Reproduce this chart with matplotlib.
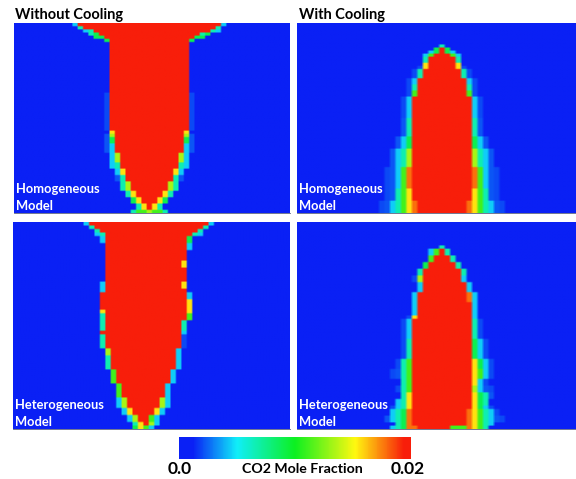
import matplotlib
matplotlib.use("Agg")
import matplotlib.pyplot as plt
import numpy as np
from matplotlib.colors import LinearSegmentedColormap, Normalize
from matplotlib.cm import ScalarMappable

plt.rcParams['font.family'] = ['Lato', 'DejaVu Sans']

VMAX = 0.02

# each row: (rows repeated, first red col, col after last red, left edge cells, right edge cells)
# edge cells go outward from the red core, digit / 9 = fraction of VMAX, "." is a faint tint
homog_no_cool = [
    (1, 12, 39, "2", "2"), (1, 13, 38, "3", "3"), (1, 15, 37, "32", "32"),
    (1, 16, 35, "43", "34"), (1, 17, 34, "44", "44"), (1, 18, 33, "4", "4"),
    (16, 18, 33, "", ""), (12, 18, 33, ".", "."),
    (1, 19, 32, "7", "7"), (1, 19, 32, "61", "61"), (2, 19, 32, "41", "41"),
    (3, 19, 32, "21", "21"), (3, 20, 31, "62", "62"), (2, 20, 31, "32", "32"),
    (2, 21, 30, "72", "72"), (2, 21, 30, "31", "31"), (3, 22, 29, "63", "63"),
    (2, 23, 28, "73", "73"), (2, 24, 27, "74", "74"), (2, 25, 26, "73", "73"),
    (1, 25, 25, "553", "6553"),
]
homog_cool = [
    (7, 26, 26, "", ""), (1, 26, 26, "", "3"), (1, 26, 27, "4", "4"),
    (1, 26, 27, "42", "42"), (1, 25, 28, "52", "52"), (2, 24, 29, "3", "3"),
    (1, 24, 29, "7", "7"), (1, 24, 29, "7.", "7."), (3, 23, 30, "3.", "3."),
    (2, 22, 31, "2.", "2."), (2, 22, 31, "3.", "3."), (2, 22, 31, "5.", "5."),
    (7, 21, 32, "2.", "2."), (6, 21, 32, "31", "31"), (4, 21, 32, "421", "421"),
    (6, 21, 32, "6321", "6321"), (7, 21, 32, "8521.", "8521."),
    (4, 22, 31, "97531.", "97531."), (4, 22, 31, "875321.", "875321."),
]
heterog_no_cool = [
    (1, 14, 36, "2", "2"), (1, 15, 35, "3", "3"), (1, 16, 34, "3", "3"),
    (1, 17, 33, "32", "32"), (2, 17, 32, "2", "4"), (2, 17, 32, "", "2"),
    (3, 17, 32, "", ""), (2, 17, 31, "", "7"), (4, 17, 32, "", ""),
    (2, 17, 31, "2", "7"), (1, 17, 32, "2", ""), (2, 16, 32, "", "2"),
    (3, 16, 32, "", "7"), (1, 17, 32, "7", "7"), (2, 17, 32, "3", "5"),
    (3, 17, 31, "3", "3"), (1, 16, 31, "", "2"), (4, 17, 31, "3", "."),
    (2, 18, 30, "6", "2"), (4, 18, 30, "3", "2"), (4, 19, 29, "5", "2"),
    (4, 20, 28, "5", "2"), (3, 21, 27, "62", "62"), (2, 22, 26, "72", "72"),
    (2, 23, 25, "62", "52"), (1, 24, 25, "73", "62"), (1, 24, 24, "74", "52"),
]
heterog_cool = [
    (7, 26, 26, "", ""), (1, 26, 26, "", "3"), (2, 26, 27, "52", "3"),
    (2, 25, 28, "5", "3"), (2, 24, 29, "4", "3"), (2, 23, 30, "3", "3"),
    (2, 23, 30, "6.", "2"), (3, 23, 31, "2", "2"), (3, 22, 31, "2", "82"),
    (4, 22, 32, "2", "2"), (1, 22, 32, "7.", "2"),
    (6, 21, 32, "2.", "3."), (6, 21, 32, "3.", "42."),
    (3, 21, 32, "53.", "742."), (3, 21, 32, "531.", "752."),
    (2, 21, 32, "53", "72."), (2, 21, 32, "53.", "621."),
    (2, 21, 32, "73", "7431"), (2, 21, 32, "732", "743"),
    (1, 21, 32, "732.", "742."), (2, 21, 31, "8432", "87532."),
    (2, 21, 31, "84321", "875321."), (1, 21, 31, "843", "87532"),
    (1, 22, 28, "88432", "5558753"),
]

cmap_nodes = [0.0, 0.06, 0.25, 0.5, 0.76, 0.97, 1.0]
cmap_colors = ['#0a20f5', '#0a20f5', '#10eef8', '#0cf020', '#fff810', '#f81e0a', '#f81e0a']

panel_titles = ["Without Cooling", "With Cooling"]
model_labels = ["Homogeneous\nModel", "Heterogeneous\nModel"]
cbar_label = "CO2 Mole Fraction"
cbar_ticks = ["0.0", "0.02"]


def edge_value(c):
    return 0.1 if c == "." else int(c) / 9


def build_grid(spec, n_cols):
    rows = []
    for n, left, right, left_edge, right_edge in spec:
        row = np.zeros(n_cols)
        row[left:right] = 1.0
        for i, c in enumerate(left_edge):
            row[left - 1 - i] = edge_value(c)
        for i, c in enumerate(right_edge):
            row[right + i] = edge_value(c)
        rows.extend([row] * n)
    return np.array(rows) * VMAX


cmap = LinearSegmentedColormap.from_list("co2", list(zip(cmap_nodes, cmap_colors)))
norm = Normalize(0, VMAX)

W, H = 576, 479
fig = plt.figure(figsize=(W / 100, H / 100), dpi=100)


def add_axes_px(x0, y0, x1, y1):
    return fig.add_axes([x0 / W, 1 - y1 / H, (x1 - x0) / W, (y1 - y0) / H])


# last number: how far a cell is split before smoothing, less means softer
panels = [
    (homog_no_cool, 52, (14, 23, 290, 213), model_labels[0], 3),
    (homog_cool, 51, (297, 23, 576, 213), model_labels[0], 2),
    (heterog_no_cool, 51, (13, 222, 290, 429), model_labels[1], 3),
    (heterog_cool, 51, (297, 222, 576, 429), model_labels[1], 2),
]

for spec, n_cols, box, label, split in panels:
    ax = add_axes_px(*box)
    grid = build_grid(spec, n_cols)
    fine = np.repeat(np.repeat(grid, 2, axis=0), split, axis=1)
    ax.imshow(fine, cmap=cmap, norm=norm, aspect='auto',
              interpolation='bilinear', interpolation_stage='rgba')
    ax.set_xticks([])
    ax.set_yticks([])
    for side in ax.spines:
        ax.spines[side].set_visible(False)
    ax.spines['bottom'].set_visible(True)
    ax.spines['bottom'].set_color('#5a6080')
    ax.spines['bottom'].set_linewidth(0.6)
    first, second = label.split("\n")
    fig.text((box[0] + 2) / W, 1 - (box[3] - 24) / H, first, color='white',
             fontsize=9.3, fontweight='bold', va='center')
    fig.text((box[0] + 2) / W, 1 - (box[3] - 7) / H, second, color='white',
             fontsize=9.3, fontweight='bold', va='center')

fig.text(15 / W, 1 - 15 / H, panel_titles[0], fontsize=10.5, fontweight='bold', va='center')
fig.text(299 / W, 1 - 15 / H, panel_titles[1], fontsize=10.5, fontweight='bold', va='center')

cax = add_axes_px(179, 437, 411, 459)
cb = fig.colorbar(ScalarMappable(norm=norm, cmap=cmap), cax=cax, orientation='horizontal')
cb.set_ticks([])
cb.outline.set_visible(False)

fig.text(180 / W, 1 - 469 / H, cbar_ticks[0], fontsize=12.5, fontweight='bold', ha='center', va='center')
fig.text(408 / W, 1 - 469 / H, cbar_ticks[1], fontsize=12.5, fontweight='bold', ha='center', va='center')
fig.text(302 / W, 1 - 469 / H, cbar_label, fontsize=10.2, fontweight='bold', ha='center', va='center')

fig.savefig("out.png", dpi=100)
